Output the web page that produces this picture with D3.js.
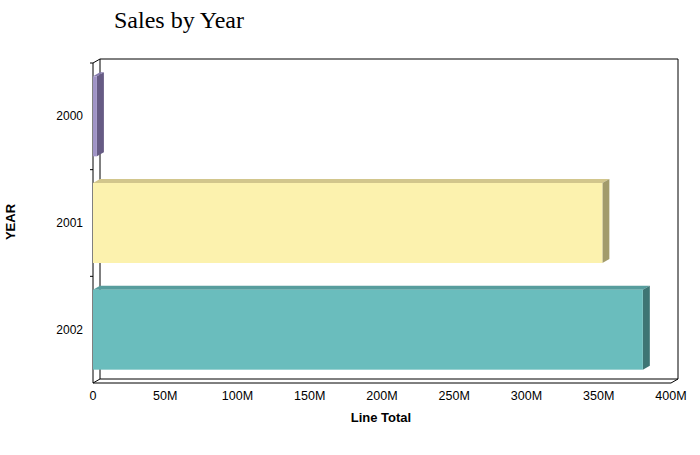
<!DOCTYPE html>
<html><head><meta charset="utf-8">
<script src="https://cdn.jsdelivr.net/npm/d3@7"></script>
<style>body{margin:0;background:#fff}svg{display:block}</style>
</head><body>
<svg id="c" width="700" height="455"></svg>
<script>
const years = ["2000", "2001", "2002"];
const lineTotals = [2700000, 352500000, 380500000];
const tickValues = [0, 50e6, 100e6, 150e6, 200e6, 250e6, 300e6, 350e6, 400e6];
const tickLabels = ["0", "50M", "100M", "150M", "200M", "250M", "300M", "350M", "400M"];
const frontColors = ["#a094c6", "#fcf2ae", "#6abdbd"];
const topColors = ["#877caf", "#d2c68c", "#579d9d"];
const sideColors = ["#665b84", "#a29b6b", "#3e7574"];

const svg = d3.select("#c");
const L = 93, R = 671, T = 63, B = 383, DX = 7, DY = 4;
const x = d3.scaleLinear().domain([0, 400e6]).range([L, R]);
const y = d3.scaleBand().domain(years).range([T, B]).paddingInner(0.25).paddingOuter(0.125);

svg.append("text").attr("x", 114).attr("y", 28).attr("font-family", "Liberation Serif, Times New Roman, serif")
  .attr("font-size", 24).attr("fill", "#000").text("Sales by Year");

// frame
const frame = svg.append("g").attr("stroke", "#000").attr("stroke-width", 1).attr("fill", "none");
const ln = (x1, y1, x2, y2) => frame.append("line").attr("x1", x1).attr("y1", y1).attr("x2", x2).attr("y2", y2);
ln(L + DX, T - DY, R + DX, T - DY);
ln(R + DX, T - DY, R + DX, B - DY);
ln(L + DX, T - DY, L + DX, B - DY);
ln(L + DX, B - DY, R + DX, B - DY);
ln(L, T, L, B);
ln(L, B, R, B);
ln(L, T, L + DX, T - DY);
ln(L, B, L + DX, B - DY);
ln(R, B, R + DX, B - DY);
// category boundary ticks
const bounds = [T, T + (B - T) / 3, T + 2 * (B - T) / 3];
bounds.forEach(b => ln(L - 3, b, L, b));

// bars
const bars = svg.append("g");
years.forEach((yr, i) => {
  const x0 = x(0), x1 = x(lineTotals[i]), t = y(yr), b = t + y.bandwidth();
  bars.append("polygon").attr("points", [[x0, t], [x0 + DX, t - DY], [x1 + DX, t - DY], [x1, t]].join(" "))
    .attr("fill", topColors[i]);
  bars.append("polygon").attr("points", [[x1, t], [x1 + DX, t - DY], [x1 + DX, b - DY], [x1, b]].join(" "))
    .attr("fill", sideColors[i]);
  bars.append("rect").attr("x", x0).attr("y", t).attr("width", x1 - x0).attr("height", b - t)
    .attr("fill", frontColors[i]);
});

// axis labels
const font = "Liberation Sans, Arial, sans-serif";
svg.append("g").selectAll("text").data(tickValues).join("text")
  .attr("x", d => x(d)).attr("y", 400).attr("text-anchor", "middle")
  .attr("font-family", font).attr("font-size", 12.5).attr("fill", "#000")
  .text((d, i) => tickLabels[i]);
svg.append("g").selectAll("text").data(years).join("text")
  .attr("x", 83).attr("y", d => y(d) + y.bandwidth() / 2 + 4).attr("text-anchor", "end")
  .attr("font-family", font).attr("font-size", 12).attr("fill", "#000").text(d => d);

svg.append("text").attr("x", 381).attr("y", 422).attr("text-anchor", "middle")
  .attr("font-family", font).attr("font-size", 13).attr("font-weight", "bold").text("Line Total");
svg.append("text").attr("transform", "translate(15,222) rotate(-90)").attr("text-anchor", "middle")
  .attr("font-family", font).attr("font-size", 13).attr("font-weight", "bold").text("YEAR");
</script>
</body></html>
